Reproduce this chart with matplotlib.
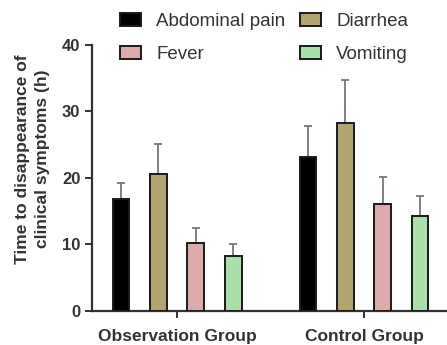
import matplotlib.pyplot as plt
import numpy as np

plt.rcParams['font.family'] = ['Liberation Sans', 'DejaVu Sans']

groups = ['Observation Group', 'Control Group']
symptoms = ['Abdominal pain', 'Diarrhea', 'Fever', 'Vomiting']
colors = ['#000000', '#b2a66e', '#dcaaaa', '#a9dfa8']
# mean and SD per symptom, [observation, control]
means = {
    'Abdominal pain': [16.8, 23.1],
    'Diarrhea': [20.6, 28.2],
    'Fever': [10.2, 16.1],
    'Vomiting': [8.3, 14.2],
}
sds = {
    'Abdominal pain': [2.5, 4.7],
    'Diarrhea': [4.5, 6.5],
    'Fever': [2.3, 4.1],
    'Vomiting': [1.8, 3.0],
}

dark = '#333333'
fig = plt.figure(figsize=(4.47, 3.45), dpi=100)
ax = fig.add_axes([0.206, 0.099, 0.794, 0.771])

x = np.arange(len(groups))
width = 0.09
offsets = [-0.3, -0.1, 0.1, 0.3]
handles = []
for s, c, off in zip(symptoms, colors, offsets):
    b = ax.bar(x + off, means[s], width, color=c, edgecolor='#1a1a1a',
               linewidth=1.4, label=s, zorder=3)
    ax.errorbar(x + off, means[s], yerr=[np.zeros(2), sds[s]], fmt='none',
                ecolor='#777777', elinewidth=1.3, capsize=3, capthick=1.3, zorder=2)
    handles.append(b)

ax.set_xlim(-0.455, 1.444)
ax.set_ylim(0, 40)
ax.set_yticks([0, 10, 20, 30, 40])
ax.set_xticks(x)
ax.set_xticklabels(groups, fontsize=12.5, fontweight='bold', color=dark)
for lab in ax.get_yticklabels():
    lab.set_fontweight('bold')
ax.tick_params(axis='y', labelsize=12, colors=dark, width=1.4, length=5)
ax.tick_params(axis='x', colors=dark, width=1.4, length=5, pad=8)
ax.set_ylabel('Time to disappearance of\nclinical symptoms (h)', fontsize=12.5,
              fontweight='bold', color=dark, linespacing=1.4)
ax.yaxis.set_label_coords(-0.118, 0.57)
for sp in ['top', 'right']:
    ax.spines[sp].set_visible(False)
for sp in ['left', 'bottom']:
    ax.spines[sp].set_linewidth(1.6)
    ax.spines[sp].set_color(dark)

order = [0, 2, 1, 3]
fig.legend([handles[i] for i in order], [symptoms[i] for i in order], ncol=2,
           loc='upper left', bbox_to_anchor=(0.23, 1.012), frameon=False,
           fontsize=13.5, handlelength=1.15, handleheight=0.7,
           columnspacing=0.75, labelspacing=0.85, handletextpad=0.8,
           labelcolor=dark)

fig.savefig('out.png', dpi=100)
